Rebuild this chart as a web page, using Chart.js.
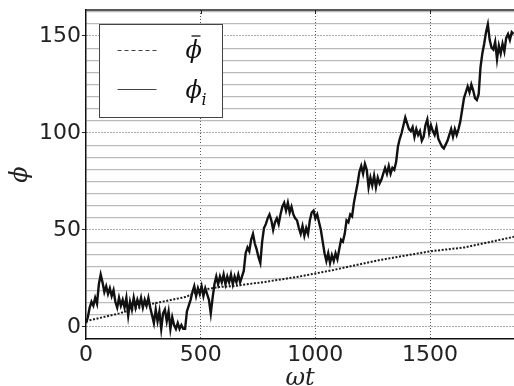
<!DOCTYPE html>
<html>
<head>
<meta charset="utf-8">
<script src="https://cdn.jsdelivr.net/npm/chart.js@4.4.0/dist/chart.umd.min.js"></script>
<style>
  html, body { margin: 0; padding: 0; background: #fff; overflow: hidden; }
  #wrap { width: 514px; height: 386px; }
</style>
</head>
<body>
<div id="wrap"><canvas id="phiChart" width="514" height="386"></canvas></div>
<script>
// time step between samples of phi_i (omega t units)
const tStep = 8

// phi_i, every 8 units of omega t (band width kept as jitter)
const phiI = [
  2, 5, 10, 13, 11, 15, 12, 22, 27, 23, 18, 21, 17, 20, 16, 19,
  13, 10, 15, 11, 14, 10, 15, 6, 13, 9, 15, 10, 14, 11, 15, 10,
  14, 11, 15, 10, 6, 2, 9, 3, 8, -1, 7, 9, 3, 8, -1, 5,
  1, -1, 2, -1, 1, -1, -1, 8, 11, 14, 18, 21, 16, 20, 17, 21,
  16, 20, 17, 14, 7, 15, 22, 26, 22, 26, 23, 27, 22, 26, 23, 27,
  22, 26, 23, 27, 23, 26, 29, 38, 41, 39, 45, 48, 43, 40, 36, 33,
  44, 51, 53, 56, 58, 55, 50, 54, 56, 53, 58, 62, 64, 60, 64, 59,
  62, 58, 56, 55, 51, 48, 52, 47, 51, 48, 55, 59, 60, 56, 58, 54,
  50, 44, 38, 34, 38, 33, 37, 34, 38, 35, 40, 45, 44, 48, 55, 54,
  58, 57, 64, 69, 74, 80, 83, 79, 84, 81, 72, 77, 73, 78, 72, 77,
  74, 76, 79, 82, 79, 83, 79, 82, 81, 85, 93, 97, 100, 104, 108, 105,
  102, 101, 103, 98, 102, 99, 101, 96, 98, 104, 107, 100, 104, 101, 99, 103,
  97, 95, 93, 92, 94, 96, 99, 102, 98, 102, 99, 102, 106, 112, 118, 121,
  124, 121, 125, 122, 118, 117, 120, 134, 141, 146, 152, 156, 148, 144, 143, 147,
  138, 145, 141, 146, 142, 149, 151, 148, 152, 151
]

// mean phi (dotted line)
const meanT = [0, 145, 290, 436, 500, 580, 640, 790, 930, 1080, 1220, 1280, 1500, 1650, 1866]
const meanPhi = [3, 7, 12, 15.5, 19, 20.6, 21, 23.4, 26, 29.4, 33, 34.5, 39, 41, 46.5]

// axes
const xTicks = [0, 500, 1000, 1500]
const yMajor = [0, 50, 100, 150]
const yMinorStep = 6.25
const xMin = 0, xMax = 1866
const yMin = -6.2, yMax = 163.4

const phiPoints = phiI.map((v, i) => ({ x: i * tStep, y: v }))
const meanPoints = meanPhi.map((v, i) => ({ x: meanT[i], y: v }))

const yTickValues = []
for (let v = 0; v <= yMax; v += yMinorStep) yTickValues.push(v)

const tickFont = { family: 'DejaVu Sans', size: 22 }
const mathFont = 'italic 24px "DejaVu Serif"'

// frame on top + custom legend (subscript / overbar need hand drawing)
const framePlugin = {
  id: 'frame',
  afterDraw(chart) {
    const c = chart.ctx
    const a = chart.chartArea
    const xs = chart.scales.x
    c.save()
    c.strokeStyle = '#222'
    c.lineWidth = 1.5
    c.beginPath()
    c.moveTo(a.left, a.top)
    c.lineTo(a.right, a.top)
    c.stroke()
    c.lineWidth = 1
    xTicks.forEach(v => {
      if (v === 0) return
      const px = Math.round(xs.getPixelForValue(v)) + 0.5
      c.beginPath()
      c.moveTo(px, a.top)
      c.lineTo(px, a.top + 4)
      c.stroke()
    })

    // legend box
    const lx = a.left + 13.5, ly = a.top + 14.5
    c.fillStyle = '#fff'
    c.fillRect(lx, ly, 123, 93)
    c.strokeStyle = '#444'
    c.lineWidth = 1
    c.strokeRect(lx, ly, 123, 93)

    c.strokeStyle = '#444'
    c.lineWidth = 1.2
    c.setLineDash([4, 3])
    c.beginPath()
    c.moveTo(lx + 18, ly + 26)
    c.lineTo(lx + 57, ly + 26)
    c.stroke()
    c.setLineDash([])
    c.beginPath()
    c.moveTo(lx + 18, ly + 65)
    c.lineTo(lx + 57, ly + 65)
    c.stroke()

    c.fillStyle = '#111'
    c.font = mathFont
    c.textBaseline = 'alphabetic'
    c.textAlign = 'left'
    c.fillText('ϕ', lx + 86, ly + 33)
    c.lineWidth = 1.3
    c.strokeStyle = '#111'
    c.beginPath()
    c.moveTo(lx + 92, ly + 11.5)
    c.lineTo(lx + 101, ly + 11.5)
    c.stroke()
    c.fillText('ϕ', lx + 86, ly + 73)
    c.font = 'italic 16px "DejaVu Serif"'
    c.fillText('i', lx + 102, ly + 80)
    c.restore()
  }
}

const chart = new Chart(document.getElementById('phiChart').getContext('2d'), {
  type: 'line',
  data: {
    datasets: [
      {
        label: 'phi mean',
        data: meanPoints,
        borderColor: '#1a1a1a',
        borderWidth: 2,
        borderDash: [2, 1.6],
        pointRadius: 0,
        tension: 0
      },
      {
        label: 'phi i',
        data: phiPoints,
        borderColor: '#111',
        borderWidth: 2.4,
        pointRadius: 0,
        tension: 0
      }
    ]
  },
  options: {
    responsive: false,
    animation: false,
    devicePixelRatio: 1,
    layout: { padding: { top: 10, right: 0, left: 0, bottom: 0 } },
    plugins: {
      legend: { display: false },
      tooltip: { enabled: false }
    },
    scales: {
      x: {
        type: 'linear',
        min: xMin,
        max: xMax,
        afterBuildTicks: ax => { ax.ticks = xTicks.map(v => ({ value: v })) },
        afterFit: ax => { ax.height = 47; ax.paddingLeft = 0; ax.paddingRight = 0 },
        ticks: {
          font: tickFont,
          color: '#222',
          padding: 0,
          autoSkip: false,
          maxRotation: 0,
          callback: v => String(v)
        },
        grid: {
          color: ctx => (ctx.tick && ctx.tick.value === 0) ? 'rgba(0,0,0,0)' : '#555',
          lineWidth: 1,
          drawTicks: true,
          tickLength: 3,
          tickColor: 'rgba(0,0,0,0)'
        },
        border: {
          display: true,
          color: '#111',
          width: 1.5,
          dash: ctx => ctx.tick ? [1, 2] : []
        },
        title: {
          display: true,
          text: 'ωt',
          font: { family: 'DejaVu Serif', size: 24, style: 'italic' },
          color: '#222',
          padding: { top: 0, bottom: -7 }
        }
      },
      y: {
        type: 'linear',
        min: yMin,
        max: yMax,
        afterBuildTicks: ax => { ax.ticks = yTickValues.map(v => ({ value: v })) },
        afterFit: ax => { ax.width = 86; ax.paddingTop = 0; ax.paddingBottom = 0 },
        ticks: {
          font: tickFont,
          color: '#222',
          padding: 1,
          autoSkip: false,
          callback: v => yMajor.includes(v) ? String(v) : ''
        },
        grid: {
          color: ctx => (ctx.tick && yMajor.includes(ctx.tick.value)) ? '#555' : '#bbb',
          lineWidth: ctx => (ctx.tick && yMajor.includes(ctx.tick.value)) ? 1 : 1.2,
          drawTicks: true,
          tickLength: 4,
          tickColor: ctx => (ctx.tick && yMajor.includes(ctx.tick.value)) ? '#222' : 'rgba(0,0,0,0)',
          tickBorderDash: [],
          tickWidth: 1
        },
        border: {
          display: true,
          color: '#111',
          width: 1.5,
          dash: ctx => (ctx.tick && yMajor.includes(ctx.tick.value)) ? [1, 2] : []
        },
        title: {
          display: true,
          text: 'ϕ',
          font: { family: 'DejaVu Serif', size: 24, style: 'italic' },
          color: '#222',
          padding: { top: 6, bottom: 0 }
        }
      }
    }
  },
  plugins: [framePlugin]
});
</script>
</body>
</html>
